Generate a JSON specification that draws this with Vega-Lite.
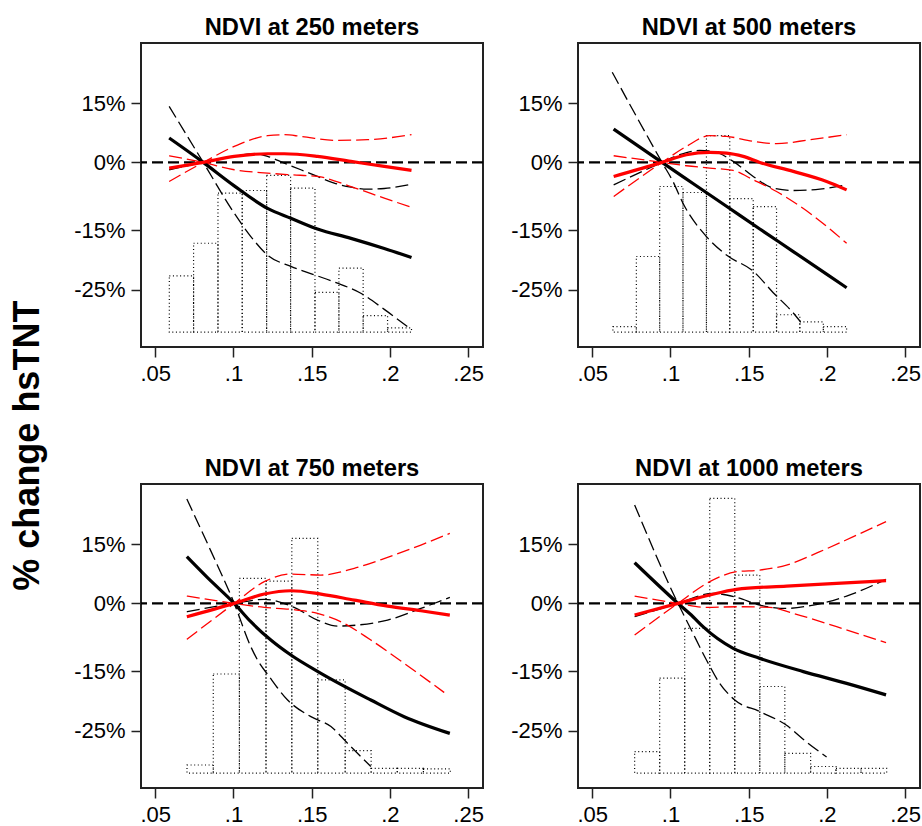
{
"$schema": "https://vega.github.io/schema/vega-lite/v6.json",
"background": "white",
"padding": {"top": 15, "left": 9, "right": 2, "bottom": 2},
"title": {"text": "% change hsTNT", "orient": "left", "anchor": "middle", "fontSize": 36, "fontWeight": "bold", "font": "Liberation Sans", "color": "black", "offset": 26, "dx": -25},
"data": {"values": [
{"p":"NDVI at 250 meters","k":"h","lo":0.0590,"hi":0.0745,"top":-22.67},
{"p":"NDVI at 250 meters","k":"h","lo":0.0745,"hi":0.0901,"top":-17.22},
{"p":"NDVI at 250 meters","k":"h","lo":0.0901,"hi":0.1056,"top":-6.83},
{"p":"NDVI at 250 meters","k":"h","lo":0.1056,"hi":0.1212,"top":-6.24},
{"p":"NDVI at 250 meters","k":"h","lo":0.1212,"hi":0.1365,"top":-2.90},
{"p":"NDVI at 250 meters","k":"h","lo":0.1365,"hi":0.1521,"top":-5.72},
{"p":"NDVI at 250 meters","k":"h","lo":0.1521,"hi":0.1674,"top":-25.44},
{"p":"NDVI at 250 meters","k":"h","lo":0.1674,"hi":0.1829,"top":-21.39},
{"p":"NDVI at 250 meters","k":"h","lo":0.1829,"hi":0.1985,"top":-29.33},
{"p":"NDVI at 250 meters","k":"h","lo":0.1985,"hi":0.2138,"top":-31.39},
{"p":"NDVI at 500 meters","k":"h","lo":0.0632,"hi":0.0782,"top":-31.2},
{"p":"NDVI at 500 meters","k":"h","lo":0.0782,"hi":0.0931,"top":-19.44},
{"p":"NDVI at 500 meters","k":"h","lo":0.0931,"hi":0.1080,"top":-5.35},
{"p":"NDVI at 500 meters","k":"h","lo":0.1080,"hi":0.1230,"top":-6.68},
{"p":"NDVI at 500 meters","k":"h","lo":0.1230,"hi":0.1379,"top":6.74},
{"p":"NDVI at 500 meters","k":"h","lo":0.1379,"hi":0.1529,"top":-8.02},
{"p":"NDVI at 500 meters","k":"h","lo":0.1529,"hi":0.1678,"top":-9.80},
{"p":"NDVI at 500 meters","k":"h","lo":0.1678,"hi":0.1827,"top":-29.2},
{"p":"NDVI at 500 meters","k":"h","lo":0.1827,"hi":0.1977,"top":-30.4},
{"p":"NDVI at 500 meters","k":"h","lo":0.1977,"hi":0.2126,"top":-31.2},
{"p":"NDVI at 750 meters","k":"h","lo":0.0703,"hi":0.0871,"top":-30.75},
{"p":"NDVI at 750 meters","k":"h","lo":0.0871,"hi":0.1038,"top":-15.5},
{"p":"NDVI at 750 meters","k":"h","lo":0.1038,"hi":0.1208,"top":6.32},
{"p":"NDVI at 750 meters","k":"h","lo":0.1208,"hi":0.1373,"top":5.6},
{"p":"NDVI at 750 meters","k":"h","lo":0.1373,"hi":0.1539,"top":16.43},
{"p":"NDVI at 750 meters","k":"h","lo":0.1539,"hi":0.1714,"top":-16.5},
{"p":"NDVI at 750 meters","k":"h","lo":0.1714,"hi":0.1880,"top":-28.35},
{"p":"NDVI at 750 meters","k":"h","lo":0.1880,"hi":0.2047,"top":-31.3},
{"p":"NDVI at 750 meters","k":"h","lo":0.2047,"hi":0.2214,"top":-31.3},
{"p":"NDVI at 750 meters","k":"h","lo":0.2214,"hi":0.2386,"top":-31.4},
{"p":"NDVI at 1000 meters","k":"h","lo":0.0771,"hi":0.0931,"top":-28.5},
{"p":"NDVI at 1000 meters","k":"h","lo":0.0931,"hi":0.1091,"top":-16.2},
{"p":"NDVI at 1000 meters","k":"h","lo":0.1091,"hi":0.1251,"top":-5.54},
{"p":"NDVI at 1000 meters","k":"h","lo":0.1251,"hi":0.1411,"top":26.5},
{"p":"NDVI at 1000 meters","k":"h","lo":0.1411,"hi":0.1571,"top":7.15},
{"p":"NDVI at 1000 meters","k":"h","lo":0.1571,"hi":0.1731,"top":-17.6},
{"p":"NDVI at 1000 meters","k":"h","lo":0.1731,"hi":0.1896,"top":-28.8},
{"p":"NDVI at 1000 meters","k":"h","lo":0.1896,"hi":0.2058,"top":-31.0},
{"p":"NDVI at 1000 meters","k":"h","lo":0.2058,"hi":0.2218,"top":-31.3},
{"p":"NDVI at 1000 meters","k":"h","lo":0.2218,"hi":0.2382,"top":-31.3},

{"p":"NDVI at 250 meters","k":"l","m":"Model 1","t":"est","x":0.0589,"y":6.15},
{"p":"NDVI at 250 meters","k":"l","m":"Model 1","t":"est","x":0.0807,"y":0},
{"p":"NDVI at 250 meters","k":"l","m":"Model 1","t":"est","x":0.1005,"y":-5.2},
{"p":"NDVI at 250 meters","k":"l","m":"Model 1","t":"est","x":0.1218,"y":-10.2},
{"p":"NDVI at 250 meters","k":"l","m":"Model 1","t":"est","x":0.1367,"y":-12.4},
{"p":"NDVI at 250 meters","k":"l","m":"Model 1","t":"est","x":0.1537,"y":-14.8},
{"p":"NDVI at 250 meters","k":"l","m":"Model 1","t":"est","x":0.1751,"y":-16.4},
{"p":"NDVI at 250 meters","k":"l","m":"Model 1","t":"est","x":0.1964,"y":-18.1},
{"p":"NDVI at 250 meters","k":"l","m":"Model 1","t":"est","x":0.2138,"y":-19.6},
{"p":"NDVI at 250 meters","k":"l","m":"Model 1","t":"ci1","x":0.0589,"y":-1.63},
{"p":"NDVI at 250 meters","k":"l","m":"Model 1","t":"ci1","x":0.0807,"y":0},
{"p":"NDVI at 250 meters","k":"l","m":"Model 1","t":"ci1","x":0.1005,"y":1.52},
{"p":"NDVI at 250 meters","k":"l","m":"Model 1","t":"ci1","x":0.1133,"y":2.19},
{"p":"NDVI at 250 meters","k":"l","m":"Model 1","t":"ci1","x":0.1218,"y":1.52},
{"p":"NDVI at 250 meters","k":"l","m":"Model 1","t":"ci1","x":0.1324,"y":-0.15},
{"p":"NDVI at 250 meters","k":"l","m":"Model 1","t":"ci1","x":0.1431,"y":-1.63},
{"p":"NDVI at 250 meters","k":"l","m":"Model 1","t":"ci1","x":0.1537,"y":-3.12},
{"p":"NDVI at 250 meters","k":"l","m":"Model 1","t":"ci1","x":0.1644,"y":-4.6},
{"p":"NDVI at 250 meters","k":"l","m":"Model 1","t":"ci1","x":0.1751,"y":-5.49},
{"p":"NDVI at 250 meters","k":"l","m":"Model 1","t":"ci1","x":0.1857,"y":-5.94},
{"p":"NDVI at 250 meters","k":"l","m":"Model 1","t":"ci1","x":0.1964,"y":-5.79},
{"p":"NDVI at 250 meters","k":"l","m":"Model 1","t":"ci1","x":0.2138,"y":-4.83},
{"p":"NDVI at 250 meters","k":"l","m":"Model 1","t":"ci2","x":0.0589,"y":14.15},
{"p":"NDVI at 250 meters","k":"l","m":"Model 1","t":"ci2","x":0.0807,"y":0},
{"p":"NDVI at 250 meters","k":"l","m":"Model 1","t":"ci2","x":0.1005,"y":-11.28},
{"p":"NDVI at 250 meters","k":"l","m":"Model 1","t":"ci2","x":0.1111,"y":-16.1},
{"p":"NDVI at 250 meters","k":"l","m":"Model 1","t":"ci2","x":0.1218,"y":-19.2},
{"p":"NDVI at 250 meters","k":"l","m":"Model 1","t":"ci2","x":0.1367,"y":-21.1},
{"p":"NDVI at 250 meters","k":"l","m":"Model 1","t":"ci2","x":0.1516,"y":-22.5},
{"p":"NDVI at 250 meters","k":"l","m":"Model 1","t":"ci2","x":0.1665,"y":-23.9},
{"p":"NDVI at 250 meters","k":"l","m":"Model 1","t":"ci2","x":0.1814,"y":-25.6},
{"p":"NDVI at 250 meters","k":"l","m":"Model 1","t":"ci2","x":0.1964,"y":-28.3},
{"p":"NDVI at 250 meters","k":"l","m":"Model 1","t":"ci2","x":0.2138,"y":-31.7},
{"p":"NDVI at 250 meters","k":"l","m":"Model 2","t":"est","x":0.0589,"y":-1.26},
{"p":"NDVI at 250 meters","k":"l","m":"Model 2","t":"est","x":0.0807,"y":0},
{"p":"NDVI at 250 meters","k":"l","m":"Model 2","t":"est","x":0.1005,"y":1.52},
{"p":"NDVI at 250 meters","k":"l","m":"Model 2","t":"est","x":0.1218,"y":2.19},
{"p":"NDVI at 250 meters","k":"l","m":"Model 2","t":"est","x":0.1324,"y":2.19},
{"p":"NDVI at 250 meters","k":"l","m":"Model 2","t":"est","x":0.1537,"y":1.52},
{"p":"NDVI at 250 meters","k":"l","m":"Model 2","t":"est","x":0.1751,"y":0.25},
{"p":"NDVI at 250 meters","k":"l","m":"Model 2","t":"est","x":0.1964,"y":-0.89},
{"p":"NDVI at 250 meters","k":"l","m":"Model 2","t":"est","x":0.2138,"y":-1.78},
{"p":"NDVI at 250 meters","k":"l","m":"Model 2","t":"ci1","x":0.0589,"y":-4.23},
{"p":"NDVI at 250 meters","k":"l","m":"Model 2","t":"ci1","x":0.0807,"y":0},
{"p":"NDVI at 250 meters","k":"l","m":"Model 2","t":"ci1","x":0.1005,"y":4.04},
{"p":"NDVI at 250 meters","k":"l","m":"Model 2","t":"ci1","x":0.1218,"y":6.74},
{"p":"NDVI at 250 meters","k":"l","m":"Model 2","t":"ci1","x":0.1324,"y":6.99},
{"p":"NDVI at 250 meters","k":"l","m":"Model 2","t":"ci1","x":0.1431,"y":6.57},
{"p":"NDVI at 250 meters","k":"l","m":"Model 2","t":"ci1","x":0.1644,"y":5.56},
{"p":"NDVI at 250 meters","k":"l","m":"Model 2","t":"ci1","x":0.1857,"y":5.73},
{"p":"NDVI at 250 meters","k":"l","m":"Model 2","t":"ci1","x":0.2138,"y":6.99},
{"p":"NDVI at 250 meters","k":"l","m":"Model 2","t":"ci2","x":0.0589,"y":1.68},
{"p":"NDVI at 250 meters","k":"l","m":"Model 2","t":"ci2","x":0.0807,"y":0},
{"p":"NDVI at 250 meters","k":"l","m":"Model 2","t":"ci2","x":0.1005,"y":-1.63},
{"p":"NDVI at 250 meters","k":"l","m":"Model 2","t":"ci2","x":0.1218,"y":-2.38},
{"p":"NDVI at 250 meters","k":"l","m":"Model 2","t":"ci2","x":0.1367,"y":-2.75},
{"p":"NDVI at 250 meters","k":"l","m":"Model 2","t":"ci2","x":0.1537,"y":-3.12},
{"p":"NDVI at 250 meters","k":"l","m":"Model 2","t":"ci2","x":0.1751,"y":-5.35},
{"p":"NDVI at 250 meters","k":"l","m":"Model 2","t":"ci2","x":0.1964,"y":-7.94},
{"p":"NDVI at 250 meters","k":"l","m":"Model 2","t":"ci2","x":0.2138,"y":-9.95},

{"p":"NDVI at 500 meters","k":"l","m":"Model 1","t":"est","x":0.0637,"y":8.42},
{"p":"NDVI at 500 meters","k":"l","m":"Model 1","t":"est","x":0.0946,"y":0},
{"p":"NDVI at 500 meters","k":"l","m":"Model 1","t":"est","x":0.1144,"y":-4.68},
{"p":"NDVI at 500 meters","k":"l","m":"Model 1","t":"est","x":0.1358,"y":-9.73},
{"p":"NDVI at 500 meters","k":"l","m":"Model 1","t":"est","x":0.1571,"y":-14.77},
{"p":"NDVI at 500 meters","k":"l","m":"Model 1","t":"est","x":0.1785,"y":-18.61},
{"p":"NDVI at 500 meters","k":"l","m":"Model 1","t":"est","x":0.1998,"y":-22.39},
{"p":"NDVI at 500 meters","k":"l","m":"Model 1","t":"est","x":0.2126,"y":-24.67},
{"p":"NDVI at 500 meters","k":"l","m":"Model 1","t":"ci1","x":0.0637,"y":-4.97},
{"p":"NDVI at 500 meters","k":"l","m":"Model 1","t":"ci1","x":0.0946,"y":0},
{"p":"NDVI at 500 meters","k":"l","m":"Model 1","t":"ci1","x":0.1059,"y":1.94},
{"p":"NDVI at 500 meters","k":"l","m":"Model 1","t":"ci1","x":0.1187,"y":3.03},
{"p":"NDVI at 500 meters","k":"l","m":"Model 1","t":"ci1","x":0.1273,"y":2.78},
{"p":"NDVI at 500 meters","k":"l","m":"Model 1","t":"ci1","x":0.1401,"y":0.25},
{"p":"NDVI at 500 meters","k":"l","m":"Model 1","t":"ci1","x":0.1529,"y":-3.12},
{"p":"NDVI at 500 meters","k":"l","m":"Model 1","t":"ci1","x":0.1657,"y":-5.72},
{"p":"NDVI at 500 meters","k":"l","m":"Model 1","t":"ci1","x":0.1785,"y":-6.24},
{"p":"NDVI at 500 meters","k":"l","m":"Model 1","t":"ci1","x":0.1955,"y":-5.94},
{"p":"NDVI at 500 meters","k":"l","m":"Model 1","t":"ci1","x":0.2126,"y":-4.97},
{"p":"NDVI at 500 meters","k":"l","m":"Model 1","t":"ci2","x":0.0628,"y":22.75},
{"p":"NDVI at 500 meters","k":"l","m":"Model 1","t":"ci2","x":0.0782,"y":11.63},
{"p":"NDVI at 500 meters","k":"l","m":"Model 1","t":"ci2","x":0.0946,"y":0},
{"p":"NDVI at 500 meters","k":"l","m":"Model 1","t":"ci2","x":0.1016,"y":-4.23},
{"p":"NDVI at 500 meters","k":"l","m":"Model 1","t":"ci2","x":0.1080,"y":-9.06},
{"p":"NDVI at 500 meters","k":"l","m":"Model 1","t":"ci2","x":0.1230,"y":-16.1},
{"p":"NDVI at 500 meters","k":"l","m":"Model 1","t":"ci2","x":0.1358,"y":-19.2},
{"p":"NDVI at 500 meters","k":"l","m":"Model 1","t":"ci2","x":0.1529,"y":-21.9},
{"p":"NDVI at 500 meters","k":"l","m":"Model 1","t":"ci2","x":0.1657,"y":-25.5},
{"p":"NDVI at 500 meters","k":"l","m":"Model 1","t":"ci2","x":0.1785,"y":-28.9},
{"p":"NDVI at 500 meters","k":"l","m":"Model 1","t":"ci2","x":0.1832,"y":-30.4},
{"p":"NDVI at 500 meters","k":"l","m":"Model 2","t":"est","x":0.0637,"y":-3.12},
{"p":"NDVI at 500 meters","k":"l","m":"Model 2","t":"est","x":0.0946,"y":0},
{"p":"NDVI at 500 meters","k":"l","m":"Model 2","t":"est","x":0.1102,"y":1.94},
{"p":"NDVI at 500 meters","k":"l","m":"Model 2","t":"est","x":0.1251,"y":2.53},
{"p":"NDVI at 500 meters","k":"l","m":"Model 2","t":"est","x":0.1358,"y":2.36},
{"p":"NDVI at 500 meters","k":"l","m":"Model 2","t":"est","x":0.1465,"y":1.52},
{"p":"NDVI at 500 meters","k":"l","m":"Model 2","t":"est","x":0.1571,"y":0},
{"p":"NDVI at 500 meters","k":"l","m":"Model 2","t":"est","x":0.1785,"y":-2.0},
{"p":"NDVI at 500 meters","k":"l","m":"Model 2","t":"est","x":0.1998,"y":-4.23},
{"p":"NDVI at 500 meters","k":"l","m":"Model 2","t":"est","x":0.2126,"y":-6.09},
{"p":"NDVI at 500 meters","k":"l","m":"Model 2","t":"ci1","x":0.0637,"y":-7.57},
{"p":"NDVI at 500 meters","k":"l","m":"Model 2","t":"ci1","x":0.0946,"y":0},
{"p":"NDVI at 500 meters","k":"l","m":"Model 2","t":"ci1","x":0.1102,"y":4.04},
{"p":"NDVI at 500 meters","k":"l","m":"Model 2","t":"ci1","x":0.1251,"y":6.74},
{"p":"NDVI at 500 meters","k":"l","m":"Model 2","t":"ci1","x":0.1358,"y":6.57},
{"p":"NDVI at 500 meters","k":"l","m":"Model 2","t":"ci1","x":0.1529,"y":5.31},
{"p":"NDVI at 500 meters","k":"l","m":"Model 2","t":"ci1","x":0.1678,"y":4.72},
{"p":"NDVI at 500 meters","k":"l","m":"Model 2","t":"ci1","x":0.1891,"y":5.73},
{"p":"NDVI at 500 meters","k":"l","m":"Model 2","t":"ci1","x":0.2126,"y":6.99},
{"p":"NDVI at 500 meters","k":"l","m":"Model 2","t":"ci2","x":0.0637,"y":1.68},
{"p":"NDVI at 500 meters","k":"l","m":"Model 2","t":"ci2","x":0.0946,"y":0},
{"p":"NDVI at 500 meters","k":"l","m":"Model 2","t":"ci2","x":0.1102,"y":-0.74},
{"p":"NDVI at 500 meters","k":"l","m":"Model 2","t":"ci2","x":0.1251,"y":-1.26},
{"p":"NDVI at 500 meters","k":"l","m":"Model 2","t":"ci2","x":0.1401,"y":-1.78},
{"p":"NDVI at 500 meters","k":"l","m":"Model 2","t":"ci2","x":0.1529,"y":-3.86},
{"p":"NDVI at 500 meters","k":"l","m":"Model 2","t":"ci2","x":0.1678,"y":-6.46},
{"p":"NDVI at 500 meters","k":"l","m":"Model 2","t":"ci2","x":0.1891,"y":-11.28},
{"p":"NDVI at 500 meters","k":"l","m":"Model 2","t":"ci2","x":0.2126,"y":-17.22},

{"p":"NDVI at 750 meters","k":"l","m":"Model 1","t":"est","x":0.0702,"y":11.79},
{"p":"NDVI at 750 meters","k":"l","m":"Model 1","t":"est","x":0.0834,"y":6.49},
{"p":"NDVI at 750 meters","k":"l","m":"Model 1","t":"est","x":0.1005,"y":0},
{"p":"NDVI at 750 meters","k":"l","m":"Model 1","t":"est","x":0.1111,"y":-4.07},
{"p":"NDVI at 750 meters","k":"l","m":"Model 1","t":"est","x":0.1239,"y":-8.13},
{"p":"NDVI at 750 meters","k":"l","m":"Model 1","t":"est","x":0.1367,"y":-11.46},
{"p":"NDVI at 750 meters","k":"l","m":"Model 1","t":"est","x":0.1559,"y":-15.39},
{"p":"NDVI at 750 meters","k":"l","m":"Model 1","t":"est","x":0.1878,"y":-19.86},
{"p":"NDVI at 750 meters","k":"l","m":"Model 1","t":"est","x":0.2091,"y":-22.65},
{"p":"NDVI at 750 meters","k":"l","m":"Model 1","t":"est","x":0.2383,"y":-25.45},
{"p":"NDVI at 750 meters","k":"l","m":"Model 1","t":"ci1","x":0.0702,"y":-1.85},
{"p":"NDVI at 750 meters","k":"l","m":"Model 1","t":"ci1","x":0.1005,"y":0},
{"p":"NDVI at 750 meters","k":"l","m":"Model 1","t":"ci1","x":0.1197,"y":1.01},
{"p":"NDVI at 750 meters","k":"l","m":"Model 1","t":"ci1","x":0.1388,"y":-0.89},
{"p":"NDVI at 750 meters","k":"l","m":"Model 1","t":"ci1","x":0.1537,"y":-3.70},
{"p":"NDVI at 750 meters","k":"l","m":"Model 1","t":"ci1","x":0.1665,"y":-5.03},
{"p":"NDVI at 750 meters","k":"l","m":"Model 1","t":"ci1","x":0.1793,"y":-4.8},
{"p":"NDVI at 750 meters","k":"l","m":"Model 1","t":"ci1","x":0.1985,"y":-3.7},
{"p":"NDVI at 750 meters","k":"l","m":"Model 1","t":"ci1","x":0.2198,"y":-1.11},
{"p":"NDVI at 750 meters","k":"l","m":"Model 1","t":"ci1","x":0.2383,"y":1.52},
{"p":"NDVI at 750 meters","k":"l","m":"Model 1","t":"ci2","x":0.0702,"y":26.37},
{"p":"NDVI at 750 meters","k":"l","m":"Model 1","t":"ci2","x":0.0856,"y":13.2},
{"p":"NDVI at 750 meters","k":"l","m":"Model 1","t":"ci2","x":0.1005,"y":0},
{"p":"NDVI at 750 meters","k":"l","m":"Model 1","t":"ci2","x":0.1111,"y":-9.61},
{"p":"NDVI at 750 meters","k":"l","m":"Model 1","t":"ci2","x":0.1154,"y":-12.56},
{"p":"NDVI at 750 meters","k":"l","m":"Model 1","t":"ci2","x":0.1229,"y":-15.95},
{"p":"NDVI at 750 meters","k":"l","m":"Model 1","t":"ci2","x":0.1346,"y":-19.86},
{"p":"NDVI at 750 meters","k":"l","m":"Model 1","t":"ci2","x":0.1495,"y":-22.65},
{"p":"NDVI at 750 meters","k":"l","m":"Model 1","t":"ci2","x":0.1623,"y":-24.3},
{"p":"NDVI at 750 meters","k":"l","m":"Model 1","t":"ci2","x":0.1729,"y":-27.1},
{"p":"NDVI at 750 meters","k":"l","m":"Model 1","t":"ci2","x":0.1878,"y":-31.0},
{"p":"NDVI at 750 meters","k":"l","m":"Model 2","t":"est","x":0.0702,"y":-2.96},
{"p":"NDVI at 750 meters","k":"l","m":"Model 2","t":"est","x":0.1005,"y":0},
{"p":"NDVI at 750 meters","k":"l","m":"Model 2","t":"est","x":0.1197,"y":2.36},
{"p":"NDVI at 750 meters","k":"l","m":"Model 2","t":"est","x":0.1367,"y":3.20},
{"p":"NDVI at 750 meters","k":"l","m":"Model 2","t":"est","x":0.1559,"y":2.36},
{"p":"NDVI at 750 meters","k":"l","m":"Model 2","t":"est","x":0.1772,"y":0.84},
{"p":"NDVI at 750 meters","k":"l","m":"Model 2","t":"est","x":0.1985,"y":-0.59},
{"p":"NDVI at 750 meters","k":"l","m":"Model 2","t":"est","x":0.2198,"y":-1.63},
{"p":"NDVI at 750 meters","k":"l","m":"Model 2","t":"est","x":0.2383,"y":-2.59},
{"p":"NDVI at 750 meters","k":"l","m":"Model 2","t":"ci1","x":0.0702,"y":-7.98},
{"p":"NDVI at 750 meters","k":"l","m":"Model 2","t":"ci1","x":0.1005,"y":0},
{"p":"NDVI at 750 meters","k":"l","m":"Model 2","t":"ci1","x":0.1197,"y":5.48},
{"p":"NDVI at 750 meters","k":"l","m":"Model 2","t":"ci1","x":0.1367,"y":7.41},
{"p":"NDVI at 750 meters","k":"l","m":"Model 2","t":"ci1","x":0.1559,"y":7.16},
{"p":"NDVI at 750 meters","k":"l","m":"Model 2","t":"ci1","x":0.1772,"y":8.85},
{"p":"NDVI at 750 meters","k":"l","m":"Model 2","t":"ci1","x":0.1985,"y":11.63},
{"p":"NDVI at 750 meters","k":"l","m":"Model 2","t":"ci1","x":0.2198,"y":14.74},
{"p":"NDVI at 750 meters","k":"l","m":"Model 2","t":"ci1","x":0.2383,"y":17.69},
{"p":"NDVI at 750 meters","k":"l","m":"Model 2","t":"ci2","x":0.0702,"y":1.85},
{"p":"NDVI at 750 meters","k":"l","m":"Model 2","t":"ci2","x":0.1005,"y":0},
{"p":"NDVI at 750 meters","k":"l","m":"Model 2","t":"ci2","x":0.1197,"y":-0.89},
{"p":"NDVI at 750 meters","k":"l","m":"Model 2","t":"ci2","x":0.1367,"y":-1.33},
{"p":"NDVI at 750 meters","k":"l","m":"Model 2","t":"ci2","x":0.1537,"y":-2.22},
{"p":"NDVI at 750 meters","k":"l","m":"Model 2","t":"ci2","x":0.1708,"y":-4.43},
{"p":"NDVI at 750 meters","k":"l","m":"Model 2","t":"ci2","x":0.1878,"y":-8.13},
{"p":"NDVI at 750 meters","k":"l","m":"Model 2","t":"ci2","x":0.2091,"y":-13.3},
{"p":"NDVI at 750 meters","k":"l","m":"Model 2","t":"ci2","x":0.2347,"y":-18.6},

{"p":"NDVI at 1000 meters","k":"l","m":"Model 1","t":"est","x":0.0771,"y":10.28},
{"p":"NDVI at 1000 meters","k":"l","m":"Model 1","t":"est","x":0.1048,"y":0},
{"p":"NDVI at 1000 meters","k":"l","m":"Model 1","t":"est","x":0.1144,"y":-2.96},
{"p":"NDVI at 1000 meters","k":"l","m":"Model 1","t":"est","x":0.1208,"y":-5.17},
{"p":"NDVI at 1000 meters","k":"l","m":"Model 1","t":"est","x":0.1401,"y":-9.98},
{"p":"NDVI at 1000 meters","k":"l","m":"Model 1","t":"est","x":0.1571,"y":-12.2},
{"p":"NDVI at 1000 meters","k":"l","m":"Model 1","t":"est","x":0.1849,"y":-15.1},
{"p":"NDVI at 1000 meters","k":"l","m":"Model 1","t":"est","x":0.2126,"y":-17.07},
{"p":"NDVI at 1000 meters","k":"l","m":"Model 1","t":"est","x":0.2378,"y":-19.0},
{"p":"NDVI at 1000 meters","k":"l","m":"Model 1","t":"ci1","x":0.0771,"y":-2.96},
{"p":"NDVI at 1000 meters","k":"l","m":"Model 1","t":"ci1","x":0.1048,"y":0},
{"p":"NDVI at 1000 meters","k":"l","m":"Model 1","t":"ci1","x":0.1273,"y":2.53},
{"p":"NDVI at 1000 meters","k":"l","m":"Model 1","t":"ci1","x":0.1422,"y":1.52},
{"p":"NDVI at 1000 meters","k":"l","m":"Model 1","t":"ci1","x":0.1571,"y":-0.37},
{"p":"NDVI at 1000 meters","k":"l","m":"Model 1","t":"ci1","x":0.1742,"y":-1.11},
{"p":"NDVI at 1000 meters","k":"l","m":"Model 1","t":"ci1","x":0.1913,"y":-0.37},
{"p":"NDVI at 1000 meters","k":"l","m":"Model 1","t":"ci1","x":0.2126,"y":1.85},
{"p":"NDVI at 1000 meters","k":"l","m":"Model 1","t":"ci1","x":0.2378,"y":6.07},
{"p":"NDVI at 1000 meters","k":"l","m":"Model 1","t":"ci2","x":0.0771,"y":24.85},
{"p":"NDVI at 1000 meters","k":"l","m":"Model 1","t":"ci2","x":0.1048,"y":0},
{"p":"NDVI at 1000 meters","k":"l","m":"Model 1","t":"ci2","x":0.1123,"y":-5.17},
{"p":"NDVI at 1000 meters","k":"l","m":"Model 1","t":"ci2","x":0.1230,"y":-12.56},
{"p":"NDVI at 1000 meters","k":"l","m":"Model 1","t":"ci2","x":0.1315,"y":-17.07},
{"p":"NDVI at 1000 meters","k":"l","m":"Model 1","t":"ci2","x":0.1411,"y":-19.86},
{"p":"NDVI at 1000 meters","k":"l","m":"Model 1","t":"ci2","x":0.1571,"y":-21.8},
{"p":"NDVI at 1000 meters","k":"l","m":"Model 1","t":"ci2","x":0.1742,"y":-24.1},
{"p":"NDVI at 1000 meters","k":"l","m":"Model 1","t":"ci2","x":0.1870,"y":-26.9},
{"p":"NDVI at 1000 meters","k":"l","m":"Model 1","t":"ci2","x":0.1998,"y":-29.4},
{"p":"NDVI at 1000 meters","k":"l","m":"Model 2","t":"est","x":0.0771,"y":-2.59},
{"p":"NDVI at 1000 meters","k":"l","m":"Model 2","t":"est","x":0.1048,"y":0},
{"p":"NDVI at 1000 meters","k":"l","m":"Model 2","t":"est","x":0.1251,"y":2.11},
{"p":"NDVI at 1000 meters","k":"l","m":"Model 2","t":"est","x":0.1422,"y":3.54},
{"p":"NDVI at 1000 meters","k":"l","m":"Model 2","t":"est","x":0.1742,"y":4.38},
{"p":"NDVI at 1000 meters","k":"l","m":"Model 2","t":"est","x":0.2062,"y":5.05},
{"p":"NDVI at 1000 meters","k":"l","m":"Model 2","t":"est","x":0.2378,"y":5.73},
{"p":"NDVI at 1000 meters","k":"l","m":"Model 2","t":"ci1","x":0.0771,"y":-7.02},
{"p":"NDVI at 1000 meters","k":"l","m":"Model 2","t":"ci1","x":0.1048,"y":0},
{"p":"NDVI at 1000 meters","k":"l","m":"Model 2","t":"ci1","x":0.1251,"y":5.48},
{"p":"NDVI at 1000 meters","k":"l","m":"Model 2","t":"ci1","x":0.1422,"y":8.0},
{"p":"NDVI at 1000 meters","k":"l","m":"Model 2","t":"ci1","x":0.1571,"y":8.42},
{"p":"NDVI at 1000 meters","k":"l","m":"Model 2","t":"ci1","x":0.1742,"y":9.69},
{"p":"NDVI at 1000 meters","k":"l","m":"Model 2","t":"ci1","x":0.1955,"y":13.06},
{"p":"NDVI at 1000 meters","k":"l","m":"Model 2","t":"ci1","x":0.2169,"y":16.85},
{"p":"NDVI at 1000 meters","k":"l","m":"Model 2","t":"ci1","x":0.2378,"y":20.64},
{"p":"NDVI at 1000 meters","k":"l","m":"Model 2","t":"ci2","x":0.0771,"y":1.85},
{"p":"NDVI at 1000 meters","k":"l","m":"Model 2","t":"ci2","x":0.1048,"y":0},
{"p":"NDVI at 1000 meters","k":"l","m":"Model 2","t":"ci2","x":0.1230,"y":-0.89},
{"p":"NDVI at 1000 meters","k":"l","m":"Model 2","t":"ci2","x":0.1422,"y":-0.74},
{"p":"NDVI at 1000 meters","k":"l","m":"Model 2","t":"ci2","x":0.1635,"y":-0.89},
{"p":"NDVI at 1000 meters","k":"l","m":"Model 2","t":"ci2","x":0.1785,"y":-2.22},
{"p":"NDVI at 1000 meters","k":"l","m":"Model 2","t":"ci2","x":0.2062,"y":-5.17},
{"p":"NDVI at 1000 meters","k":"l","m":"Model 2","t":"ci2","x":0.2378,"y":-8.72}
]},
"facet": {"field": "p", "type": "nominal", "sort": ["NDVI at 250 meters", "NDVI at 500 meters", "NDVI at 750 meters", "NDVI at 1000 meters"],
  "header": {"title": null, "labelFontSize": 23.7, "labelFontWeight": "bold", "labelFont": "Liberation Sans", "labelColor": "black", "labelPadding": 3}},
"columns": 2,
"spacing": {"row": 71, "column": 23},
"resolve": {"axis": {"x": "independent", "y": "independent"}},
"spec": {
  "width": 342,
  "height": 304,
  "layer": [
    {"transform": [{"filter": "datum.k == 'h'"}],
     "mark": {"type": "rect", "fill": "transparent", "stroke": "black", "strokeWidth": 1.2, "strokeDash": [1, 2.6]},
     "encoding": {
       "x": {"field": "lo", "type": "quantitative", "scale": {"domain": [0.0409, 0.2595], "nice": false, "zero": false},
             "axis": {"values": [0.05, 0.1, 0.15, 0.2, 0.25], "labelExpr": "replace(format(datum.value, '.2~f'), '0.', '.')", "title": null}},
       "x2": {"field": "hi"},
       "y": {"field": "top", "type": "quantitative", "scale": {"domain": [-34.6, -25, -15, 0, 15, 30.15], "range": [304, 246.7, 187, 119.4, 60, 0], "nice": false, "zero": false},
             "axis": {"values": [15, 0, -15, -25], "labelExpr": "datum.value + '%'", "title": null}},
       "y2": {"datum": -32.1}
     }},
    {"transform": [{"filter": "datum.k == 'h'"}, {"aggregate": [{"op": "count", "as": "n"}], "groupby": ["p"]}],
     "mark": {"type": "rule", "color": "black", "strokeWidth": 2.2, "strokeDash": [11, 5]},
     "encoding": {"y": {"datum": 0, "type": "quantitative"}}},
    {"transform": [{"filter": "datum.k == 'l' && datum.t != 'est'"}],
     "mark": {"type": "line", "strokeWidth": 1.3, "strokeDash": [13, 5], "interpolate": "monotone"},
     "encoding": {
       "x": {"field": "x", "type": "quantitative"},
       "y": {"field": "y", "type": "quantitative"},
       "color": {"field": "m", "type": "nominal", "scale": {"domain": ["Model 1", "Model 2"], "range": ["black", "#ff0000"]}, "legend": null},
       "detail": {"field": "t"}
     }},
    {"transform": [{"filter": "datum.k == 'l' && datum.t == 'est'"}],
     "mark": {"type": "line", "strokeWidth": 3.2, "interpolate": "monotone"},
     "encoding": {
       "x": {"field": "x", "type": "quantitative"},
       "y": {"field": "y", "type": "quantitative"},
       "color": {"field": "m", "type": "nominal", "scale": {"domain": ["Model 1", "Model 2"], "range": ["black", "#ff0000"]}, "legend": null}
     }}
  ]
},
"config": {
  "view": {"stroke": "#222", "strokeWidth": 2},
  "axis": {"labelFont": "Liberation Sans", "labelFontSize": 22, "labelColor": "black", "tickColor": "#222", "tickSize": 10, "tickWidth": 1.5, "domain": false, "grid": false, "labelPadding": 6},
  "line": {"strokeCap": "butt"}
}
}
